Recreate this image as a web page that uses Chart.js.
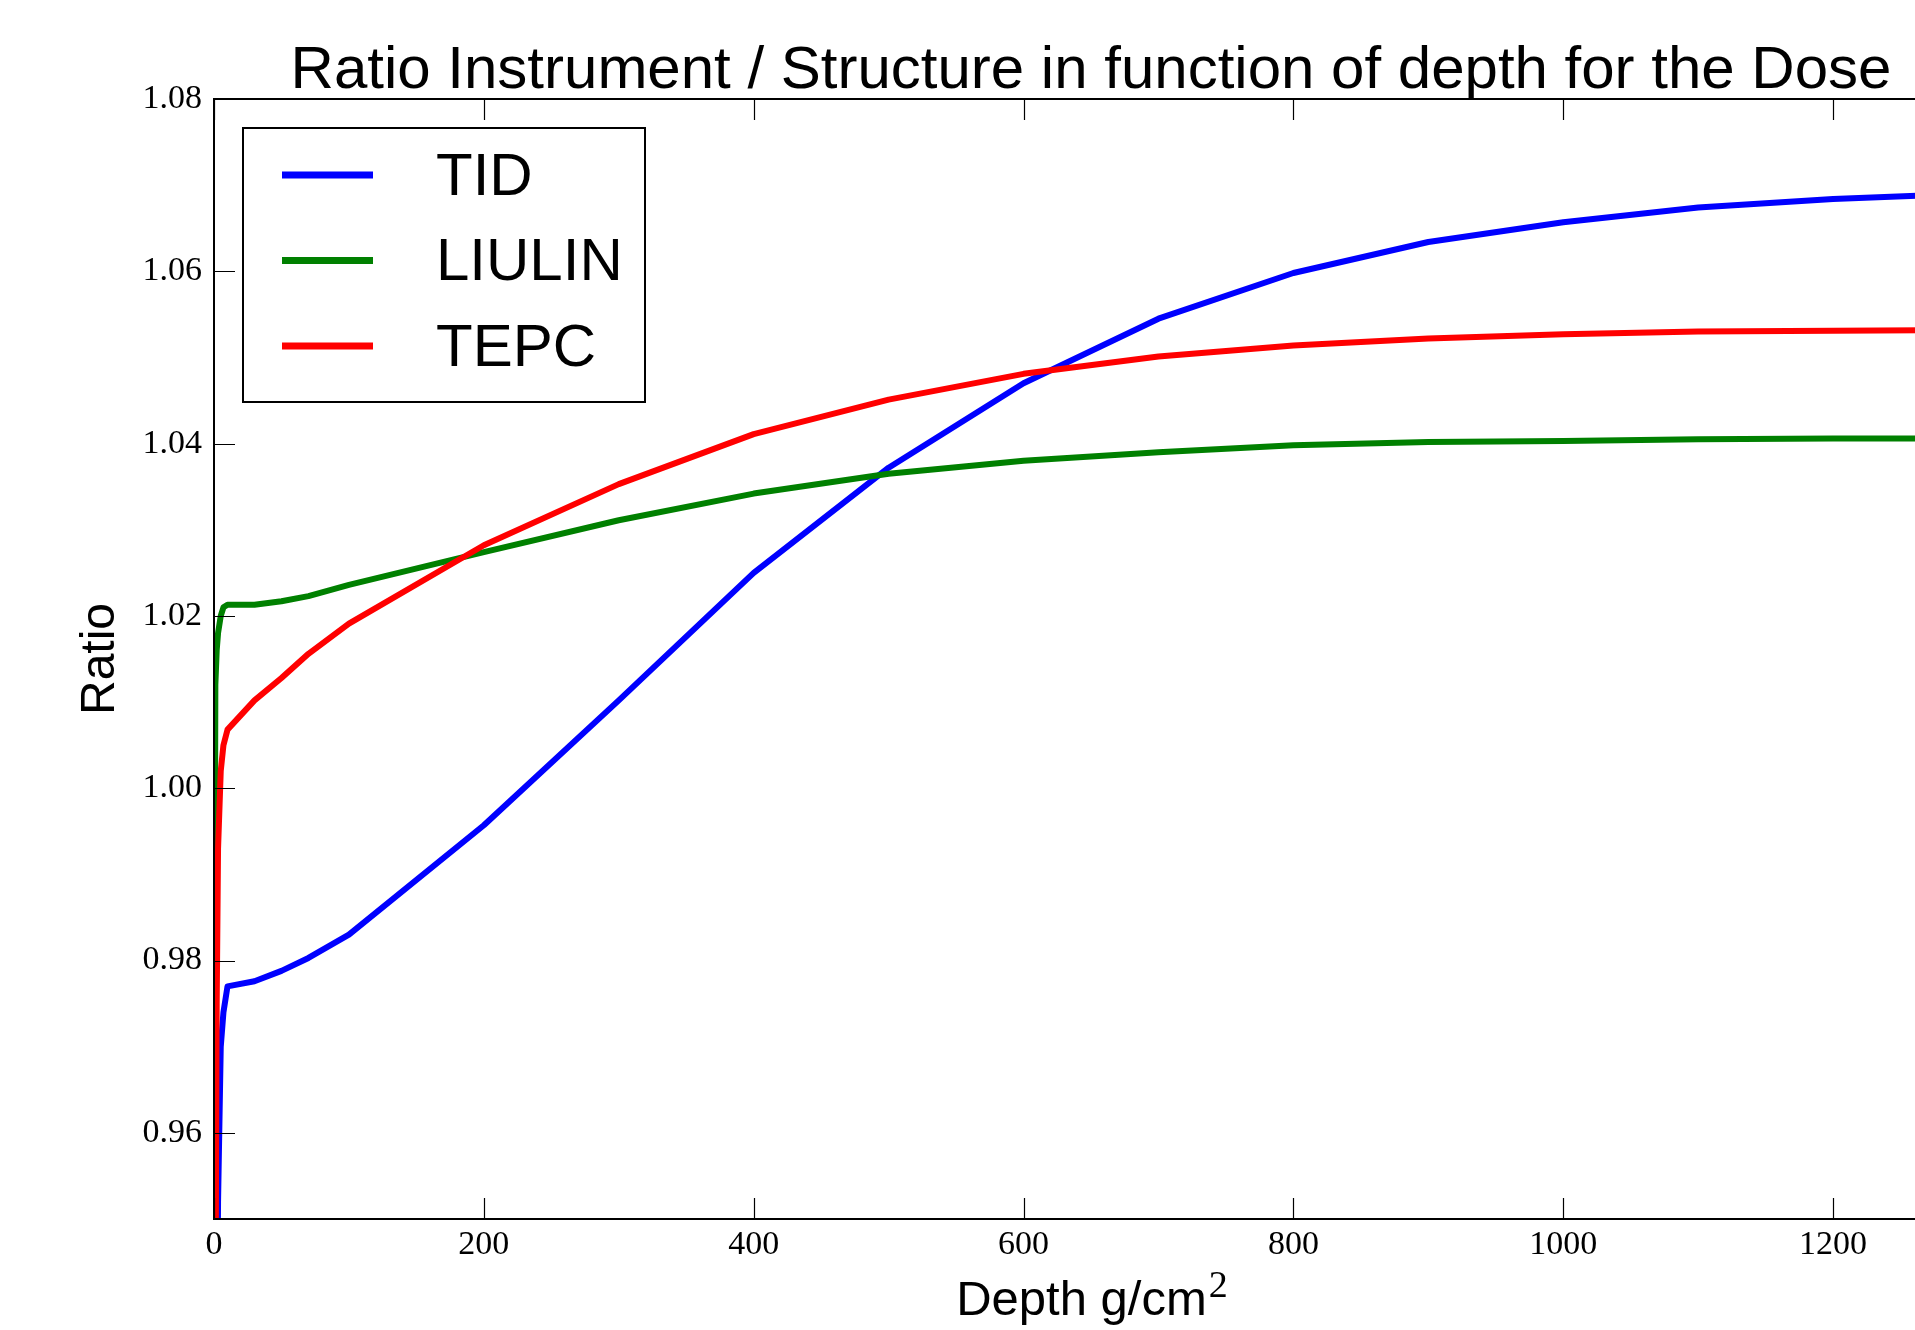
<!DOCTYPE html>
<html>
<head>
<meta charset="utf-8">
<title>Ratio Instrument / Structure</title>
<script src="https://cdn.jsdelivr.net/npm/chart.js@4.4.0/dist/chart.umd.min.js"></script>
<style>
    html, body { margin: 0; padding: 0; overflow: hidden; background: #ffffff; }
    canvas { display: block; }
</style>
</head>
<body>
<canvas id="ratio-chart" width="2060" height="1330"></canvas>
<script>
// depth in g/cm2
const depth = [0, 1, 2, 3, 5, 7, 10, 30, 50, 70, 100, 200, 300, 400, 500, 600, 700, 800, 900, 1000, 1100, 1200, 1300];

const tid = [0.85, 0.89, 0.93, 0.952, 0.970, 0.974, 0.977, 0.9776, 0.9788, 0.9803, 0.9830, 0.9957, 1.0102, 1.0250,
    1.0372, 1.0470, 1.0545, 1.0598, 1.0634, 1.0657, 1.0674, 1.0684, 1.0690];
const liulin = [0.955, 1.012, 1.016, 1.018, 1.020, 1.021, 1.0213, 1.0213, 1.0217, 1.0223, 1.0236, 1.0274, 1.0311, 1.0342,
    1.0365, 1.0380, 1.0390, 1.0398, 1.0402, 1.0403, 1.0405, 1.0406, 1.0406];
const tepc = [0.90, 0.935, 0.975, 0.993, 1.002, 1.005, 1.0068, 1.0102, 1.0128, 1.0156, 1.0191, 1.0282, 1.0353, 1.0411,
    1.0451, 1.0481, 1.0501, 1.0514, 1.0522, 1.0527, 1.0530, 1.0531, 1.0532];

const xTicks = [0, 200, 400, 600, 800, 1000, 1200];
const yTicks = [0.96, 0.98, 1.00, 1.02, 1.04, 1.06, 1.08];

const SANS = '"Liberation Sans", Arial, sans-serif';
const SERIF = '"Liberation Serif", "Times New Roman", serif';

function toPoints(values) {
    return depth.map((d, i) => ({ x: d, y: values[i] }));
}

function makeSet(label, values, color, order) {
    return {
        label: label,
        data: toPoints(values),
        borderColor: color,
        backgroundColor: color,
        borderWidth: 6,
        borderJoinStyle: 'round',
        pointRadius: 0,
        tension: 0,
        fill: false,
        clip: 0,
        order: order
    };
}

// frame, inward ticks, title, axis labels and legend, matplotlib style
const decorations = {
    id: 'decorations',
    afterDatasetsDraw(chart) {
        const ctx = chart.ctx;
        const a = chart.chartArea;
        const x = chart.scales.x;
        const y = chart.scales.y;
        ctx.save();
        ctx.strokeStyle = '#000';
        ctx.lineWidth = 1.2;
        ctx.beginPath();
        x.ticks.forEach(t => {
            const px = Math.round(x.getPixelForValue(t.value)) + 0.5;
            ctx.moveTo(px, a.bottom); ctx.lineTo(px, a.bottom - 21);
            ctx.moveTo(px, a.top); ctx.lineTo(px, a.top + 21);
        });
        y.ticks.forEach(t => {
            const py = Math.round(y.getPixelForValue(t.value)) + 0.5;
            ctx.moveTo(a.left, py); ctx.lineTo(a.left + 21, py);
            ctx.moveTo(a.right, py); ctx.lineTo(a.right - 21, py);
        });
        ctx.stroke();
        ctx.lineWidth = 2;
        ctx.strokeRect(a.left, a.top, a.right - a.left, a.bottom - a.top);
        ctx.restore();
    },
    afterDraw(chart) {
        const ctx = chart.ctx;
        const a = chart.chartArea;
        const cx = (a.left + a.right) / 2;
        const cy = (a.top + a.bottom) / 2;
        ctx.save();
        ctx.fillStyle = '#000';

        // title
        ctx.font = '60px ' + SANS;
        ctx.textAlign = 'center';
        ctx.textBaseline = 'alphabetic';
        ctx.fillText('Ratio Instrument / Structure in function of depth for the Dose', cx, 88);

        // x label with superscript
        ctx.font = '49px ' + SANS;
        const main = 'Depth g/cm';
        const wMain = ctx.measureText(main).width;
        ctx.font = '38px ' + SERIF;
        const wSup = ctx.measureText('2').width;
        const startX = cx - (wMain + wSup) / 2;
        ctx.textAlign = 'left';
        ctx.font = '49px ' + SANS;
        ctx.fillText(main, startX, 1315);
        ctx.font = '38px ' + SERIF;
        ctx.fillText('2', startX + wMain + 2, 1297);

        // y label
        ctx.translate(101, cy);
        ctx.rotate(-Math.PI / 2);
        ctx.font = '48px ' + SANS;
        ctx.textAlign = 'center';
        ctx.textBaseline = 'middle';
        ctx.fillText('Ratio', 0, 0);
        ctx.restore();

        // legend
        ctx.save();
        ctx.fillStyle = '#fff';
        ctx.fillRect(243, 128, 402, 274);
        ctx.strokeStyle = '#000';
        ctx.lineWidth = 2;
        ctx.strokeRect(243, 128, 402, 274);
        ctx.font = '60px ' + SANS;
        ctx.textAlign = 'left';
        ctx.textBaseline = 'alphabetic';
        chart.data.datasets.forEach((ds, i) => {
            const ly = 175 + i * 85.5;
            ctx.strokeStyle = ds.borderColor;
            ctx.lineWidth = 7;
            ctx.beginPath();
            ctx.moveTo(282, ly);
            ctx.lineTo(373, ly);
            ctx.stroke();
            ctx.fillStyle = '#000';
            ctx.fillText(ds.label, 436, ly + 19.5);
        });
        ctx.restore();
    }
};

const config = {
    type: 'line',
    data: {
        datasets: [
            makeSet('TID', tid, '#0000ff', 3),
            makeSet('LIULIN', liulin, '#008000', 2),
            makeSet('TEPC', tepc, '#ff0000', 1)
        ]
    },
    options: {
        responsive: false,
        maintainAspectRatio: false,
        animation: false,
        events: [],
        layout: {
            padding: { left: 0, top: 99, right: 92, bottom: 0 }
        },
        plugins: {
            legend: { display: false },
            title: { display: false },
            tooltip: { enabled: false }
        },
        scales: {
            x: {
                type: 'linear',
                min: 0,
                max: 1300,
                grid: { display: false, drawTicks: false },
                border: { display: false },
                afterBuildTicks: s => { s.ticks = xTicks.map(v => ({ value: v })); },
                afterFit: s => { s.height = 111; },
                ticks: {
                    color: '#000',
                    padding: 6,
                    maxRotation: 0,
                    font: { family: SERIF, size: 34 },
                    callback: v => String(v)
                }
            },
            y: {
                type: 'linear',
                min: 0.95,
                max: 1.08,
                grid: { display: false, drawTicks: false },
                border: { display: false },
                afterBuildTicks: s => { s.ticks = yTicks.map(v => ({ value: v })); },
                afterFit: s => { s.width = 214; },
                ticks: {
                    color: '#000',
                    padding: 12,
                    font: { family: SERIF, size: 34 },
                    callback: v => Number(v).toFixed(2)
                }
            }
        }
    },
    plugins: [decorations]
};

new Chart(document.getElementById('ratio-chart'), config);
</script>
</body>
</html>
